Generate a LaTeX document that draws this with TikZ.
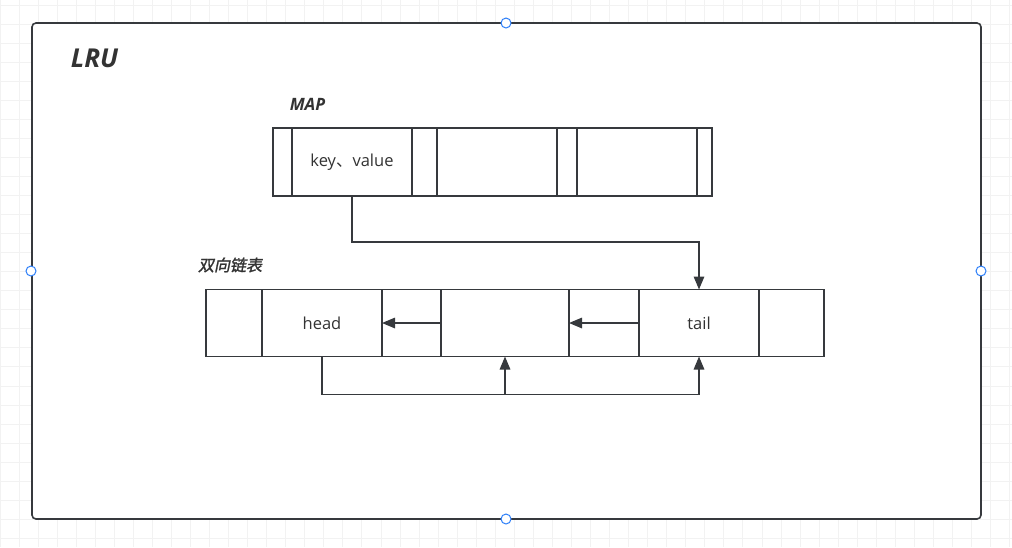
\documentclass[tikz,border=0pt]{standalone}
\usepackage{fontspec}
\setmainfont{Open Sans}
\newfontfamily\cjk{Noto Sans CJK SC}
\newfontfamily\cjkbi[FakeSlant=0.2,FakeBold=1.5]{Noto Sans CJK SC}
\usetikzlibrary{arrows.meta}
\definecolor{ln}{HTML}{36393D}
\definecolor{tx}{HTML}{333333}
\definecolor{gridminor}{HTML}{F2F2F2}
\definecolor{handleblue}{HTML}{2D7FF9}
\begin{document}
\begin{tikzpicture}[x=1pt,y=-1pt,
  cell/.style={draw=ln,line width=1.5pt,fill=white,inner sep=0pt,outer sep=0pt,minimum height=#1,text=tx,font=\fontsize{16.5}{18}\selectfont},
  cell/.default=68pt,
  conn/.style={draw=ln,line width=1.5pt},
  arr/.style={conn,-{Triangle[length=13pt,width=10.5pt]}},
  handle/.style={circle,draw=handleblue,fill=white,line width=1pt,minimum size=10pt,inner sep=0pt},
  ttl/.style={text=tx,inner sep=0pt,font=\fontsize{#1}{#1}\selectfont\bfseries\itshape}]
\useasboundingbox (0,0) rectangle (1012,547);
\fill[white] (0,0) rectangle (1012,547);
% background grid
\foreach \i in {0,...,53} \draw[gridminor,line width=1pt] (\i*19.05,0) -- (\i*19.05,547);
\foreach \j in {0,...,28} \draw[gridminor,line width=1pt] (0,5+\j*19.05) -- (1012,5+\j*19.05);
% outer container
\draw[draw=ln,fill=white,line width=1.6pt,rounded corners=4pt] (32,23) rectangle (981,519);
\node[ttl=26] (lru) at (94.5,58) {LRU};
\node[ttl=17] (map) at (307.5,104) {MAP};
\node[text=tx,inner sep=0pt,font=\fontsize{16}{16}\selectfont\cjkbi] (dll) at (230,265) {双向链表};
% map row
\node[cell,minimum width=19pt] (m1) at (282.5,162) {};
\node[cell,minimum width=120pt] (kv) at (352,162) {key{\cjk 、}value};
\node[cell,minimum width=25pt] (m3) at (424.5,162) {};
\node[cell,minimum width=120pt] (m4) at (497,162) {};
\node[cell,minimum width=20pt] (m5) at (567,162) {};
\node[cell,minimum width=120pt] (m6) at (637,162) {};
\node[cell,minimum width=15pt] (m7) at (704.5,162) {};
% linked list row
\node[cell=67pt,minimum width=56pt] (l1) at (234,323) {};
\node[cell=67pt,minimum width=120pt] (head) at (322,323) {head};
\node[cell=67pt,minimum width=59pt] (l3) at (411.5,323) {};
\node[cell=67pt,minimum width=128pt] (mid) at (505,323) {};
\node[cell=67pt,minimum width=70pt] (l5) at (604,323) {};
\node[cell=67pt,minimum width=120pt] (tail) at (699,323) {tail};
\node[cell=67pt,minimum width=65pt] (l7) at (791.5,323) {};
% connectors
\draw[arr] (kv.south) -- ++(0,46) -| (tail.north);
\draw[arr] (mid.west) -- (head.east);
\draw[arr] (tail.west) -- (mid.east);
\draw[arr] (head.south) -- ++(0,38) coordinate (hb) -| (tail.south);
\draw[arr] (mid.south |- hb) -- (mid.south);
% selection handles
\node[handle] (h1) at (506,23) {};
\node[handle] (h2) at (31,271) {};
\node[handle] (h3) at (981,271) {};
\node[handle] (h4) at (506,519) {};
\end{tikzpicture}
\end{document}
